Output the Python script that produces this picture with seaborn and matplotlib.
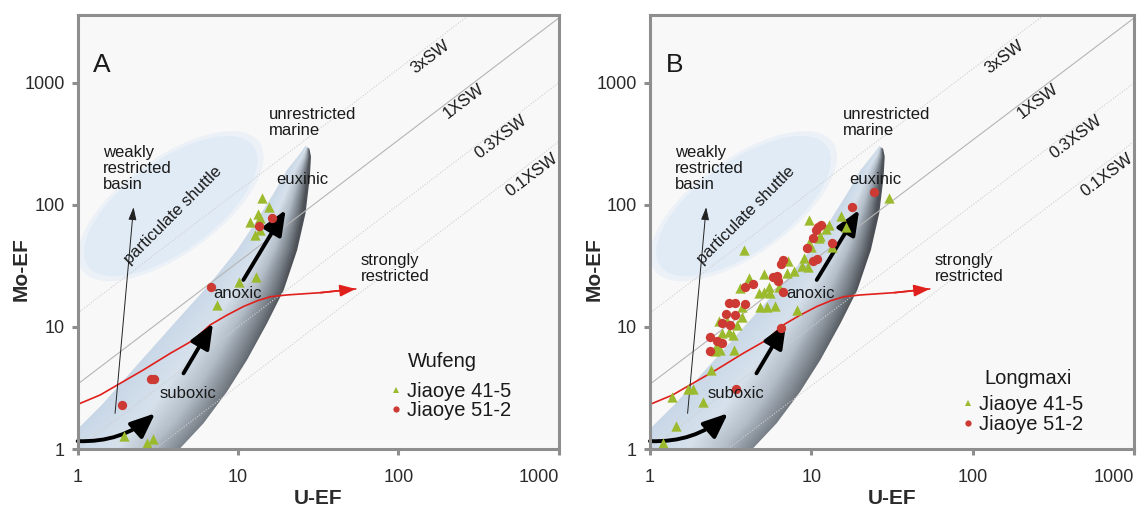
import numpy as np
import pandas as pd
import seaborn as sns
import matplotlib.pyplot as plt
from matplotlib.colors import LinearSegmentedColormap
from matplotlib.patches import Polygon
from matplotlib.lines import Line2D

sns.set_theme(style="white")
plt.rcParams["font.family"] = ["Liberation Sans", "DejaVu Sans"]

GREEN = "#9cba2d"
RED = "#cc3a33"
FRAME = "#8e8e8e"
TXT = "#1a1a1a"

# panel A - Wufeng
wufeng_415_u = [14.1, 15.7, 11.8, 13.3, 13.8, 13.7, 12.7, 10.1, 12.9, 7.4, 1.95, 2.7, 2.97]
wufeng_415_mo = [113, 96, 73, 85, 78, 62, 57, 23.5, 25.8, 15.1, 1.28, 1.11, 1.2]
wufeng_512_u = [16.2, 13.6, 6.8, 2.87, 3.01, 1.9]
wufeng_512_mo = [78, 67, 21.1, 3.73, 3.77, 2.3]

# panel B - Longmaxi
longmaxi_415_u = [30.5, 9.7, 15.3, 12.8, 16.5, 11.1, 13.4, 9.9, 3.84, 7.2, 9.0, 9.6, 8.75, 7.8,
                  7.06, 5.06, 4.1, 3.62, 4.71, 5.43, 5.56, 4.82, 5.3, 5.97, 8.15, 3.71, 2.66,
                  2.99, 3.45, 2.79, 3.07, 3.29, 2.59, 2.72, 2.53, 3.32, 2.39, 1.71, 1.84, 1.37,
                  2.14, 1.45, 1.21, 12.4, 11.3, 9.7, 6.3, 5.1, 3.7]
longmaxi_415_mo = [113, 75, 81, 69, 66, 54, 45, 45, 43, 35, 36.6, 31, 31.6, 29,
                   27.5, 27.2, 25, 20.8, 18.9, 21.4, 18.9, 14.7, 14.7, 14.9, 13.8, 14.7, 11.1,
                   11.1, 10.4, 9.0, 9.1, 8.6, 7.1, 6.5, 6.3, 6.5, 4.44, 3.08, 3.08, 2.65,
                   2.44, 1.55, 1.11, 64, 56, 49, 21.4, 19.5, 12.1]
longmaxi_512_u = [24.6, 17.9, 11.4, 10.7, 10.2, 13.4, 9.4, 10.3, 10.9, 6.7, 6.5, 6.1, 6.2, 5.8,
                  6.7, 3.9, 4.35, 3.1, 3.37, 3.9, 2.97, 3.37, 3.14, 2.79, 2.34, 2.59, 2.36,
                  2.79, 6.5, 3.42, 11.0]
longmaxi_512_mo = [127, 96, 69, 62, 54, 49, 44, 35, 36, 35.4, 32.6, 26.2, 24, 25.5,
                   19.2, 21.4, 22.5, 15.8, 15.8, 15.4, 12.8, 12.5, 10.4, 10.8, 8.3, 7.7, 6.3,
                   7.4, 9.75, 3.08, 66]

well_names = ["Jiaoye 41-5", "Jiaoye 51-2"]

ticks = [1, 10, 100, 1000]
tick_labels = ["1", "10", "100", "1000"]
X_LIM = (1, 1000)
Y_LIM = (1, 3600)

# seawater Mo/U reference lines
sw_names = ["3xSW", "1XSW", "0.3XSW", "0.1XSW"]
sw_ratio = [13.0, 3.4, 1.0, 0.33]
sw_label_u = [158, 255, 437, 676]
sw_label_mo = [1620, 708, 360, 175]

# "strongly restricted" pathway (red)
restricted_u = [1.0, 1.38, 1.84, 2.57, 3.78, 5.28, 6.71, 8.53, 10.8, 13.2, 15.9, 20.2, 32.7, 54.2]
restricted_mo = [2.32, 2.77, 3.45, 4.45, 6.08, 7.82, 10.4, 12.5, 14.7, 16.4, 17.7, 18.3, 19.1, 20.5]

# unrestricted marine field outline (log10 units)
field_left_lu = [-0.111, -0.111, 0.014, 0.16, 0.306, 0.473, 0.639, 0.827, 0.994, 1.119, 1.223, 1.306, 1.389, 1.421]
field_left_lmo = [-0.213, 0.074, 0.183, 0.375, 0.593, 0.839, 1.084, 1.358, 1.631, 1.877, 2.096, 2.287, 2.424, 2.484]
field_right_lu = [1.445, 1.455, 1.448, 1.421, 1.369, 1.285, 1.181, 1.056, 0.931, 0.785, 0.639, 0.546, 0.264]
field_right_lmo = [2.46, 2.396, 2.232, 1.932, 1.631, 1.303, 1.03, 0.73, 0.47, 0.211, 0.006, -0.131, -0.213]

# particulate shuttle ellipse: centre (log10), semi axes (px), angle
shuttle_centre = (0.58, 1.99)
shuttle_axes = (102, 45)
shuttle_angle = 36
PX_DEC_X, PX_DEC_Y = 160, 122

field_cmap = LinearSegmentedColormap.from_list(
    "field", [(0.0, "#c8d7e7"), (0.4, "#d6e1ec"), (0.65, "#b3bec9"), (0.87, "#767d85"), (1.0, "#4d5157")])


def shuttle_outline(scale=1.0):
    th = np.linspace(0, 2 * np.pi, 200)
    a, b = shuttle_axes[0] * scale, shuttle_axes[1] * scale
    phi = np.radians(shuttle_angle)
    ex = a * np.cos(th) * np.cos(phi) - b * np.sin(th) * np.sin(phi)
    ey = a * np.cos(th) * np.sin(phi) + b * np.sin(th) * np.cos(phi)
    return 10 ** (shuttle_centre[0] + ex / PX_DEC_X), 10 ** (shuttle_centre[1] + ey / PX_DEC_Y)


def shade_field(ax):
    lu = np.r_[field_left_lu, field_right_lu]
    lmo = np.r_[field_left_lmo, field_right_lmo]
    poly = Polygon(np.c_[10 ** lu, 10 ** lmo], closed=True, facecolor="none", edgecolor="none")
    ax.add_patch(poly)

    def to_axes(u, m):
        pts = np.c_[10 ** np.asarray(u), 10 ** np.asarray(m)]
        return ax.transAxes.inverted().transform(ax.transData.transform(pts))

    left = to_axes(field_left_lu, field_left_lmo)
    right = to_axes(field_right_lu, field_right_lmo)[::-1]
    fx, fy = np.meshgrid(np.linspace(0, 1, 500), np.linspace(0, 1, 500))
    xl = np.interp(fy, left[:, 1], left[:, 0])
    xr = np.interp(fy, right[:, 1], right[:, 0])
    t = np.clip((fx - xl) / np.maximum(xr - xl, 1e-3), 0, 1)
    s = np.clip(fy / 0.7, 0, 1)
    v = np.clip(t * (0.85 + 0.2 * s) + 0.08 * s, 0, 1)
    im = ax.imshow(field_cmap(v), extent=(0, 1, 0, 1), transform=ax.transAxes, origin="lower",
                   aspect="auto", interpolation="bilinear", zorder=2)
    im.set_clip_path(poly)


def black_arrow(ax, start, end, rad=0.0):
    ax.annotate("", xy=end, xytext=start,
                arrowprops=dict(arrowstyle="-|>,head_length=1.0,head_width=0.42", lw=2.8, color="black",
                                mutation_scale=15, shrinkA=0, shrinkB=0,
                                connectionstyle=f"arc3,rad={rad}"), zorder=4)


def draw_panel(ax, letter, pts415, pts512, group, suboxic_u, group_xy, leg_anchor, leg_spacing, ylab_x):
    ax.set_xscale("log")
    ax.set_yscale("log")
    ax.set_xlim(*X_LIM)
    ax.set_ylim(*Y_LIM)
    ax.set_autoscale_on(False)
    ax.set_facecolor("#f8f8f8")

    # particulate shuttle field
    ex, ey = shuttle_outline(1.07)
    ax.fill(ex, ey, color="#e8eff7", alpha=0.7, lw=0, zorder=1.4)
    ex, ey = shuttle_outline()
    ax.fill(ex, ey, color="#e1ebf6", lw=0, zorder=1.5)

    shade_field(ax)

    # seawater ratio lines
    p0 = ax.transData.transform((1, 1))
    p1 = ax.transData.transform((1000, 1000))
    ang = np.degrees(np.arctan2(p1[1] - p0[1], p1[0] - p0[0]))
    xs = np.array(X_LIM, dtype=float)
    for name, r, lu, lm in zip(sw_names, sw_ratio, sw_label_u, sw_label_mo):
        if name == "1XSW":
            ax.plot(xs, r * xs, color="#b5b5b5", lw=0.8, zorder=3)
        else:
            ax.plot(xs, r * xs, color="#cfcfcf", lw=0.8, ls=(0, (1, 1.5)), zorder=3)
        ax.text(lu, lm, name, rotation=ang, ha="center", va="center", fontsize=12, color=TXT,
                rotation_mode="anchor", zorder=6)

    # strongly restricted pathway
    ax.plot(restricted_u, restricted_mo, color="#e0201c", lw=1.2, zorder=3.5)
    ax.annotate("", xy=(restricted_u[-1], restricted_mo[-1]), xytext=(restricted_u[-2], restricted_mo[-2]),
                arrowprops=dict(arrowstyle="-|>,head_length=0.8,head_width=0.3", color="#e0201c", lw=1.2,
                                mutation_scale=12, shrinkA=0, shrinkB=0), zorder=3.5)

    # redox arrows
    black_arrow(ax, (1.0, 1.16), (3.04, 1.96), rad=0.2)
    black_arrow(ax, (4.57, 4.17), (6.98, 10.7))
    black_arrow(ax, (10.8, 24.3), (19.8, 91))
    ax.annotate("", xy=(2.23, 95.8), xytext=(1.71, 1.96),
                arrowprops=dict(arrowstyle="-|>,head_length=0.7,head_width=0.22", lw=0.7, color="#222222",
                                mutation_scale=11, shrinkA=0, shrinkB=0), zorder=4)

    # samples
    df = pd.DataFrame({
        "U-EF": list(pts415[0]) + list(pts512[0]),
        "Mo-EF": list(pts415[1]) + list(pts512[1]),
        "well": [well_names[0]] * len(pts415[0]) + [well_names[1]] * len(pts512[0]),
    })
    sns.scatterplot(data=df[df.well == well_names[0]], x="U-EF", y="Mo-EF", marker="^", color=GREEN,
                    s=55, linewidth=0, legend=False, ax=ax, zorder=5)
    sns.scatterplot(data=df[df.well == well_names[1]], x="U-EF", y="Mo-EF", marker="o", color=RED,
                    s=45, linewidth=0, legend=False, ax=ax, zorder=5)

    # labels
    ax.text(1.25, 1230, letter, fontsize=19, color=TXT, ha="left", va="baseline", zorder=6)
    ax.text(1.43, 310, "weakly\nrestricted\nbasin", fontsize=12, color=TXT, ha="left", va="top",
            linespacing=1.1, zorder=6)
    ax.text(3.96, 82.8, "particulate shuttle", fontsize=12, color=TXT, rotation=45, ha="center",
            va="center", rotation_mode="anchor", zorder=6)
    ax.text(15.6, 640, "unrestricted\nmarine", fontsize=12, color=TXT, ha="left", va="top",
            linespacing=1.1, zorder=6)
    ax.text(17.3, 161, "euxinic", fontsize=12, color=TXT, ha="left", va="center", zorder=6)
    ax.text(9.86, 18.9, "anoxic", fontsize=12, color=TXT, ha="center", va="center", zorder=6)
    ax.text(suboxic_u, 2.86, "suboxic", fontsize=12, color=TXT, ha="center", va="center", zorder=6)
    ax.text(58, 40.4, "strongly\nrestricted", fontsize=12, color=TXT, ha="left", va="top",
            linespacing=1.1, zorder=6)
    ax.text(group_xy[0], group_xy[1], group, fontsize=14.5, color=TXT, ha="left", va="center", zorder=6)

    handles = [Line2D([], [], marker="^", ls="none", color=GREEN, markersize=5, markeredgewidth=0),
               Line2D([], [], marker="o", ls="none", color=RED, markersize=4.5, markeredgewidth=0)]
    leg = ax.legend(handles, well_names, loc="upper left", bbox_to_anchor=leg_anchor, frameon=False,
                    fontsize=14.5, handlelength=0.5, handletextpad=0.3, borderpad=0, borderaxespad=0,
                    labelspacing=leg_spacing)
    for t in leg.get_texts():
        t.set_color(TXT)

    # axes cosmetics
    ax.set_xticks(ticks)
    ax.set_xticklabels(tick_labels)
    ax.set_yticks(ticks)
    ax.set_yticklabels(tick_labels)
    ax.minorticks_off()
    ax.set_xlim(*X_LIM)
    ax.set_ylim(*Y_LIM)
    ax.tick_params(axis="both", which="major", direction="out", length=4.5, width=2.2, color=FRAME,
                   labelsize=13, labelcolor="#2b2b2b")
    ax.tick_params(axis="x", pad=10)
    ax.tick_params(axis="y", pad=5)
    ax.tick_params(bottom=True, left=True)
    ax.get_xticklabels()[-1].set_horizontalalignment("right")
    for sp in ax.spines.values():
        sp.set_visible(True)
        sp.set_color(FRAME)
        sp.set_linewidth(2.2)
        sp.set_zorder(7)
    ax.set_xlabel("U-EF", fontsize=15, fontweight="bold", color="#2b2b2b")
    ax.set_ylabel("Mo-EF", fontsize=15, fontweight="bold", color="#2b2b2b")
    ax.xaxis.set_label_coords(0.5, -0.092)
    ax.yaxis.set_label_coords(ylab_x, 0.415)
    ax.grid(False)


fig = plt.figure(figsize=(11.42, 5.09), dpi=100)
ax_a = fig.add_axes([77.7 / 1142, 60 / 509, 481 / 1142, 434 / 509])
ax_b = fig.add_axes([650 / 1142, 60 / 509, 484 / 1142, 434 / 509])

draw_panel(ax_a, "A", (wufeng_415_u, wufeng_415_mo), (wufeng_512_u, wufeng_512_mo), "Wufeng",
           4.9, (114, 5.26), (0.651, 0.155), 0.0, -0.097)
draw_panel(ax_b, "B", (longmaxi_415_u, longmaxi_415_mo), (longmaxi_512_u, longmaxi_512_mo), "Longmaxi",
           3.4, (119, 3.75), (0.647, 0.125), 0.05, -0.095)

fig.savefig("out.png", dpi=100)
